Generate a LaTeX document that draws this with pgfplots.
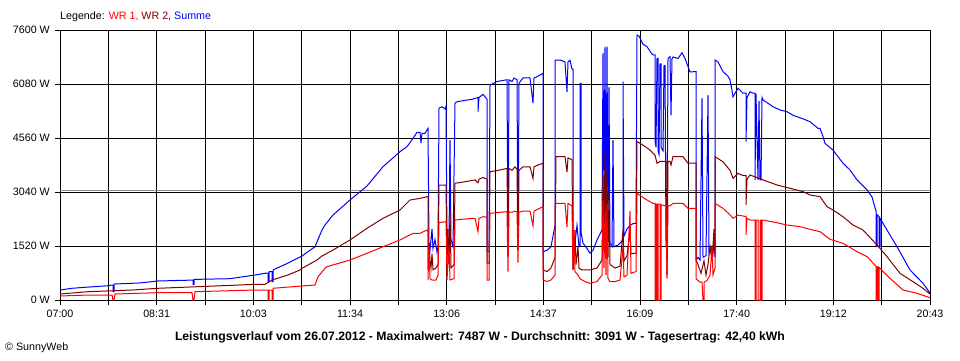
\documentclass[border=0pt]{standalone}
\usepackage{fontspec}
\setmainfont{Liberation Sans}
\usepackage{pgfplots}
\pgfplotsset{compat=1.18}
\definecolor{wrone}{RGB}{255,0,0}
\definecolor{wrtwo}{RGB}{128,0,0}
\definecolor{summe}{RGB}{0,0,255}
\begin{document}
\begin{tikzpicture}[x=1pt,y=1pt]
\useasboundingbox (0,0) rectangle (960,360);
\begin{axis}[
  at={(60pt,60pt)}, anchor=south west,
  scale only axis, width=870pt, height=270pt,
  xmin=0, xmax=870, ymin=0, ymax=7600,
  xtick={0,48.333,96.667,145,193.333,241.667,290,338.333,386.667,435,483.333,531.667,580,628.333,676.667,725,773.333,821.667,870},
  xticklabels={07:00,,08:31,,10:03,,11:34,,13:06,,14:37,,16:09,,17:40,,19:12,,20:43},
  ytick={0,1520,3040,4560,6080,7600},
  yticklabels={\mbox{0 W},\mbox{1520 W},\mbox{3040 W},\mbox{4560 W},\mbox{6080 W},\mbox{7600 W}},
  xtick pos=bottom, ytick pos=left,
  tick align=outside, major tick length=5pt,
  tick style={black, line width=1pt},
  grid=major, major grid style={black, line width=1pt},
  axis line style={black, line width=1pt},
  tick label style={font=\fontsize{10.7}{12}\selectfont},
  yticklabel style={inner sep=0pt, xshift=-5pt},
  xticklabel style={yshift=-1pt},
  /pgf/number format/assume math mode=true,
  clip=true,
]
\addplot[color={rgb,255:red,140;green,140;blue,140}, line width=1pt] coordinates {(0,3091)(870,3091)};
\addplot[summe, line width=1pt] coordinates {
(0,281)(12,330)(25,357)(47,400)(52,420)(53,420)(53,234)(54,234)(54,450)(80,480)(98,535)(132,560)(133,560)(133,440)(134,440)(134,580)(170,600)(195,704)(207,760)(208,760)(208,515)(209,515)(209,800)(212,800)(212,515)(213,515)(213,845)(228,1040)(242,1240)(255,1500)(262,1970)(265,2110)(273,2393)(290,2815)(307,3209)(323,3753)(340,4175)(347,4316)(353,4550)(357,4720)(360,4720)(361,4420)(362,4690)(365,4690)(368,4833)(369,1600)(370,1400)(372,2000)(373,1450)(375,1700)(377,1350)(378,1500)(379,5400)(382,5440)(385,5380)(386,5450)(387,1640)(389,1700)(390,4500)(391,1700)(393,1500)(395,5540)(397,5580)(405,5620)(412,5650)(418,5700)(418,5300)(419,5700)(423,5790)(427,5650)(427,1360)(429,1360)(430,6050)(437,6150)(447,6200)(448,1500)(449,6200)(452,6150)(454,6250)(457,6200)(458,1450)(459,6100)(463,6250)(470,6250)(473,5540)(474,6250)(478,6300)(483,6380)(483,1360)(487,1400)(491,1500)(495,2100)(495,6750)(500,6756)(505,6700)(507,5860)(508,6700)(510,6750)(512,6500)(513,6500)(513,1700)(515,1600)(517,2100)(519,1500)(520,1500)(520,6100)(521,6100)(521,1900)(523,1600)(527,1450)(530,1320)(533,1400)(537,1690)(542,1970)(543,6950)(544,2500)(545,7130)(546,2000)(547,7130)(548,1800)(549,6000)(550,1600)(552,1500)(553,4500)(554,1500)(558,1550)(560,1600)(563,1700)(563,6145)(564,1800)(567,2000)(570,2100)(573,2150)(576,2160)(577,7460)(579,7430)(583,7200)(587,7130)(591,6960)(593,6900)(595,6900)(595,4500)(596,4300)(597,6800)(598,6800)(598,4200)(599,4100)(600,6650)(601,6650)(601,4300)(603,4200)(604,6600)(605,6600)(606,1600)(607,1700)(608,6800)(610,6850)(611,5200)(612,6800)(613,6840)(618,6800)(622,6960)(625,6800)(628,6570)(630,6420)(636,6430)(636,1126)(638,1200)(640,1126)(642,5680)(643,1200)(646,1250)(648,5770)(649,1300)(651,1500)(653,1300)(654,1700)(655,1200)(655,6756)(658,6700)(663,6430)(668,6300)(670,6190)(672,5900)(673,5720)(678,5960)(683,5820)(686,5820)(686,4460)(687,5700)(690,5860)(693,5820)(695,5820)(695,3380)(696,5800)(698,3380)(699,5600)(700,3380)(701,3380)(702,5700)(703,5630)(710,5500)(713,5440)(720,5350)(727,5300)(733,5200)(737,5160)(743,5100)(750,5020)(758,4830)(760,4830)(763,4600)(765,4410)(773,4220)(783,3850)(790,3660)(797,3380)(807,3100)(812,2900)(816,2500)(816,1500)(817,1500)(817,2400)(819,2350)(819,1500)(820,1500)(820,2300)(827,1970)(837,1500)(850,845)(863,470)(869,234)(870,200)
};
\addplot[wrtwo, line width=1pt] coordinates {
(0,169)(28,234)(72,281)(98,330)(155,394)(195,441)(205,441)(212,563)(228,704)(240,845)(242,892)(257,1126)(262,1238)(273,1407)(290,1690)(307,2018)(323,2300)(340,2533)(350,2815)(360,2860)(367,2908)(368,2908)(368,845)(369,1600)(370,1100)(371,900)(372,1300)(373,850)(376,900)(378,1000)(379,3237)(386,3237)(387,1040)(388,2000)(389,1000)(390,2500)(391,900)(394,1000)(395,3285)(405,3330)(415,3380)(418,3300)(419,3400)(423,3450)(427,3400)(427,1040)(429,1040)(430,3610)(440,3660)(447,3705)(448,1500)(449,3705)(452,3650)(455,3750)(457,3680)(458,1400)(459,3650)(463,3750)(470,3750)(473,3420)(474,3750)(478,3800)(483,3850)(483,845)(487,800)(491,900)(495,1200)(496,4035)(505,4035)(507,3600)(508,4000)(512,3950)(513,845)(514,1100)(515,1970)(516,1000)(518,1500)(519,900)(522,845)(530,845)(537,900)(542,1126)(543,3500)(544,1500)(545,4220)(546,2000)(547,3700)(548,1200)(549,3000)(550,1000)(555,900)(560,950)(563,1970)(564,1100)(567,1250)(570,1970)(571,1300)(576,1320)(577,4460)(583,4360)(590,4220)(595,4080)(597,3850)(600,3900)(606,3900)(607,700)(608,3900)(610,3900)(611,3800)(613,4035)(623,4035)(628,3850)(636,3850)(636,1126)(638,1000)(641,750)(644,1100)(646,700)(648,1000)(650,1500)(652,1100)(654,2000)(655,1300)(655,4035)(663,3890)(670,3650)(673,3425)(678,3565)(683,3500)(686,3500)(686,2675)(687,3400)(690,3520)(703,3380)(717,3237)(730,3144)(743,3050)(750,2956)(760,2910)(767,2627)(773,2533)(783,2345)(793,2110)(803,1970)(817,1550)(827,1220)(840,750)(853,516)(863,330)(869,188)(870,170)
};
\addplot[wrone, line width=1pt] coordinates {
(0,113)(28,140)(52,140)(53,0)(54,0)(55,169)(98,206)(132,206)(133,0)(134,0)(135,234)(195,281)(208,281)(208,0)(209,0)(209,281)(212,281)(212,0)(213,0)(213,330)(242,394)(255,422)(258,656)(265,892)(267,938)(290,1126)(307,1314)(323,1500)(340,1690)(353,1877)(360,1877)(367,1970)(368,1924)(368,563)(369,1500)(370,600)(372,563)(376,563)(378,700)(379,2176)(386,2204)(387,563)(389,1500)(390,563)(394,600)(395,2252)(405,2280)(415,2300)(418,1920)(419,2300)(423,2345)(427,2330)(427,563)(429,563)(430,2440)(447,2486)(448,797)(449,2480)(452,2470)(455,2500)(457,2480)(458,1050)(459,2470)(463,2500)(470,2500)(473,2090)(474,2500)(478,2560)(483,2627)(483,563)(487,520)(491,563)(495,700)(495,2720)(505,2720)(507,2050)(508,2720)(512,2650)(513,845)(514,1970)(515,800)(518,700)(520,600)(525,516)(530,470)(537,520)(542,700)(543,2800)(544,900)(545,2500)(546,700)(547,2700)(548,600)(550,516)(555,516)(560,563)(563,1500)(564,650)(567,700)(570,2500)(571,750)(576,800)(577,3000)(587,2815)(593,2720)(595,2720)(595,0)(596,0)(596,2700)(597,2700)(597,0)(598,0)(598,2700)(600,2700)(600,0)(601,0)(601,2680)(606,2650)(607,600)(608,2650)(610,2650)(613,2720)(623,2720)(628,2580)(636,2580)(636,600)(638,550)(640,500)(642,500)(643,0)(644,0)(644,500)(647,550)(650,700)(652,1500)(653,700)(655,900)(655,2720)(663,2580)(670,2400)(673,2300)(678,2390)(686,2350)(686,1830)(687,2300)(690,2252)(695,2250)(695,0)(696,0)(696,2250)(698,2250)(698,0)(700,0)(700,2250)(701,2250)(701,0)(702,0)(702,2250)(703,2250)(717,2176)(727,2110)(740,2063)(750,1990)(760,1924)(770,1708)(783,1595)(797,1360)(807,1220)(816,950)(816,0)(817,0)(817,940)(818,930)(818,0)(819,0)(819,920)(830,610)(843,281)(857,188)(869,76)(870,60)
};
\end{axis}
\node[anchor=west, inner sep=0pt, font=\fontsize{10.7}{12}\selectfont] at (60,343) {Legende: \textcolor{wrone}{WR 1,} \textcolor{wrtwo}{WR 2,} \textcolor{summe}{Summe}};
\node[inner sep=0pt, font=\bfseries\fontsize{12.2}{14}\selectfont] at (480,23) {Leistungsverlauf vom 26.07.2012 - Maximalwert: 7487 W - Durchschnitt: 3091 W - Tagesertrag: 42,40 kWh};
\node[anchor=west, inner sep=0pt, font=\fontsize{10.7}{12}\selectfont] at (5,12) {\textcopyright\ SunnyWeb};
\end{tikzpicture}
\end{document}
